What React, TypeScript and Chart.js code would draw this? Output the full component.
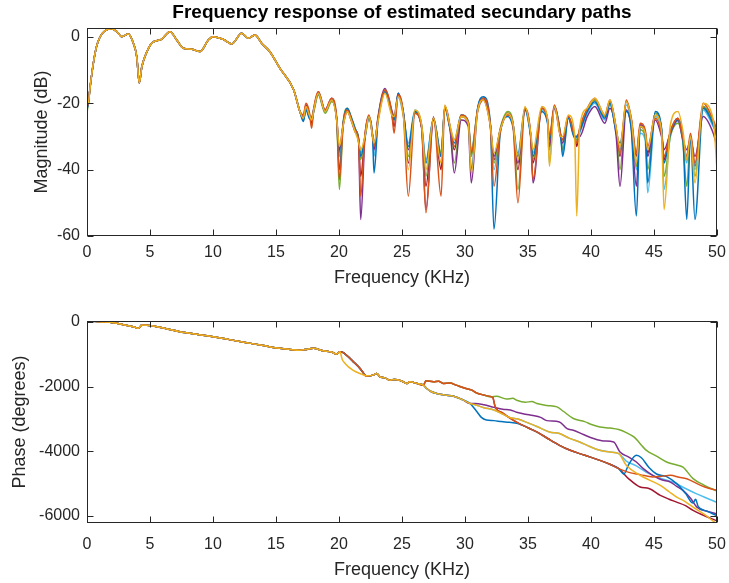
import React, { useEffect, useRef } from 'react';
import { Chart, registerables } from 'chart.js';
Chart.register(...registerables);

// ---------- axis ticks ----------
const X_TICKS = [0, 5, 10, 15, 20, 25, 30, 35, 40, 45, 50];
const MAG_Y_TICKS = [-60, -40, -20, 0];
const PH_Y_TICKS = [-6000, -4000, -2000, 0];

// ---------- series colours / names ----------
const SERIES = ['yellow', 'orange', 'blue', 'purple', 'green', 'lightblue', 'darkred'];
const COLORS: Record<string, string> = {
  blue: '#0072BD', orange: '#D95319', yellow: '#EDB120', purple: '#7E2F8E',
  green: '#77AC30', lightblue: '#4DBEEE', darkred: '#A2142F',
};

// ---------- magnitude (dB) ----------
const MAG_HEAD: [number, number][] = [
  [0, -21], [0.1, -20], [0.25, -15], [0.5, -8], [0.75, -3], [1.03, 0], [1.4, 1.8], [1.96, 2.5],
  [2.4, 1.5], [2.75, 0.1], [3.28, 0.9], [3.68, -1.9], [3.95, -6], [4.15, -13.9], [4.35, -9],
  [4.6, -5.9], [5.13, -1.9], [5.9, -0.7], [6.59, 1.6], [7.12, -0.9], [7.64, -3.4], [8.3, -3.7],
  [8.97, -4.4], [9.63, -0.9], [10.0, 0.1], [10.8, -0.7], [11.48, -2.1], [12.28, 1.1], [12.8, -0.4],
  [13.33, 0.6], [13.86, -1.9], [14.5, -4.4], [15.3, -9.4], [16.4, -15.9], [16.9, -22.5],
];
// null marks a notch whose depth is given per series
const MAG_TAIL: [number, number | null][] = [
  [17.17, -24.5], [17.38, -21], [17.64, -23.5], [17.83, null], [18.0, -22], [18.36, -17],
  [18.9, -22.5], [19.42, -19], [19.82, -25], [20.03, null], [20.34, -26], [20.66, -22], [21.0, -25],
  [21.27, -28], [21.55, -31], [21.72, null], [22.06, -30], [22.38, -24], [22.67, -30], [22.78, null],
  [23.1, -25], [23.65, -16.5], [24.18, -23], [24.37, null], [24.7, -17.5], [25.1, -23], [25.5, null],
  [26.03, -22.5], [26.56, -27], [26.9, null], [27.5, -24.5], [28.1, null], [28.4, -21], [28.8, -27],
  [29.15, null], [29.7, -24], [30.26, -26], [30.5, null], [31.0, -22], [31.45, -18.5], [32.0, -26],
  [32.3, null], [32.8, -28], [33.4, -23], [33.8, -26], [34.2, null], [34.76, -21.5], [35.2, -29],
  [35.4, null], [36.1, -21.5], [36.55, -25], [36.7, null], [37.1, -21], [37.6, -30], [37.75, null],
  [38.2, -24], [38.7, -30], [38.87, null], [39.1, -28], [39.7, -22], [40.3, -19], [41.1, -24],
  [41.5, -19.5], [42.0, -28], [42.3, null], [42.8, -19.5], [43.2, -25], [43.6, null], [43.9, -27],
  [44.3, -29], [44.5, null], [45.1, -23], [45.6, -28], [45.8, null], [46.3, -28], [46.9, -24],
  [47.3, -30], [47.6, null], [47.9, -30], [48.25, null], [48.9, -20], [49.7, -25], [50, -32],
];
const MAG_START: Record<string, number> = {
  blue: -22, orange: -21, yellow: -20, purple: -21.5, green: -23, lightblue: -20.5, darkred: -21,
};
const MAG_END: Record<string, number> = {
  blue: -30, orange: -28, yellow: -40, purple: -33, green: -31, lightblue: -29, darkred: -30,
};
const MAG_NOTCH: Record<string, number[]> = {
  blue:      [-25, -40, -36, -41, -25, -33, -38, -36, -32, -40, -58, -36, -36, -31, -36, -30, -32, -54, -44, -38, -55, -55],
  orange:    [-27.5, -43, -48, -33, -29, -48, -53, -48, -33, -35, -45, -50, -43, -30, -31, -32, -35, -35, -33, -36, -36, -38],
  yellow:    [-25, -33, -34, -32, -24, -40, -40, -38, -31, -41, -35, -37, -34, -39, -30, -54, -33, -38, -34, -52, -37, -44],
  purple:    [-24.5, -34, -55, -34, -24, -34, -52, -36, -41, -44, -36, -38, -44, -33, -32, -30, -45, -45, -36, -34, -34, -36],
  green:     [-25, -46, -37, -33, -25, -36, -42, -35, -38, -36, -38, -46, -37, -34, -34, -31, -40, -39, -40, -42, -45, -42],
  lightblue: [-24, -36, -35, -36, -25, -32, -37, -35, -31, -34, -40, -35, -35, -38, -35, -31, -34, -40, -47, -46, -38, -40],
  darkred:   [-26, -35, -42, -33, -27, -38, -45, -40, -34, -35, -37, -40, -38, -31, -31, -33, -36, -36, -35, -37, -37, -39],
};
const MAG_SHIFT: Record<string, number[]> = {
  blue:      [-1, 0, 0.5, -0.5, 0, 0.5, 0, 0, -0.5, 0.5, 0.5, -1, -0.5, -1, 0, -0.5, -0.5, -3, 0, 0.5, -1, 0, -1.5],
  orange:    [1, 0.5, 0, 0.5, 0.5, 0, -0.5, 0.5, 0, 0.5, 0, -0.5, 0, 0, 0.5, 0, 0.5, 0.5, 1, -1.5, -0.5, 1, 0],
  yellow:    [0, 0, -0.5, 0, -0.5, -0.5, 0.5, 0, 0.5, 0, -0.5, 0, 0.5, 0.5, 0, 0.5, 0.5, 0, 0, -0.5, 1.5, 0, 0],
  purple:    [0, 0.5, 0, 0, 1, 0.5, -0.5, -0.5, 0, -1, 0, 0, -0.5, 0, -0.5, 0, -2, -2.5, 0.5, -2, -1, -1, -4],
  green:     [-0.5, -0.5, 0.5, 0, 0.5, 0, 0, 0, -0.5, 0, 0, 0.5, 0, 0, 0, 0, 0, 0, -1, 0, -2, 0, -1],
  lightblue: [-0.5, 0, 0, 0, 0, -0.5, 0.5, 0, 0, 0.5, 0, 0, 0, -0.5, 0, 0, -1, -1, -2, -1, -1.5, 0, -2],
  darkred:   [0.5, 0, -0.5, 0, 0, 0, 0, 0, 0, 0, -0.5, 0, 0, 0, 0, 0, 0, 0, 0, 0, -0.5, 0, -1],
};

// ---------- phase (degrees) ----------
const PH_HEAD: [number, number][] = [
  [0, -10], [0.5, 25], [1.0, 10], [2.1, -20], [3.0, -90], [3.67, -145], [4.07, -195], [4.2, -150],
  [4.34, -93], [5.26, -124], [6.3, -210], [7.37, -300], [8.7, -380], [10.0, -455], [11.3, -545],
  [12.68, -640], [14.0, -730], [15.3, -815], [16.1, -847], [16.9, -870], [17.5, -840], [17.96, -815],
  [18.75, -890], [19.4, -930], [19.8, -992], [20.08, -920],
];
const PH_MID_MAIN: [number, number][] = [[20.3, -940], [20.74, -1075], [21.2, -1250], [21.67, -1435], [22.2, -1674]];
const PH_MID_YEL: [number, number][] = [[20.25, -1150], [20.48, -1280], [21.1, -1488], [21.8, -1612], [22.2, -1665]];
const PH_MID_COMMON: [number, number][] = [
  [22.7, -1643], [23.0, -1590], [23.25, -1695], [23.6, -1720], [24.05, -1798], [24.4, -1780],
  [24.8, -1800], [25.1, -1850], [25.4, -1900], [25.6, -1850], [26.2, -1900], [26.7, -1953],
];
const PH_UPPER: [number, number][] = [
  [26.9, -1820], [27.5, -1850], [27.9, -1830], [28.3, -1900], [28.8, -1890], [29.3, -1953],
  [30.0, -2050], [30.5, -2100], [30.9, -2190], [31.5, -2260], [32.1, -2315],
];
const PH_LOWER: [number, number][] = [
  [26.96, -2055], [27.3, -2150], [27.75, -2210], [28.4, -2260], [29.1, -2294], [29.8, -2400], [30.4, -2520],
];
const PH_MIDDLE: [number, number][] = [
  [30.8, -2560], [31.5, -2650], [32.3, -2720], [33.0, -2850], [33.6, -2960], [34.2, -3000],
  [35.0, -3120], [35.7, -3230], [36.7, -3400], [37.5, -3450], [38.3, -3600], [39.1, -3710],
  [39.9, -3850], [40.7, -3968], [41.5, -4020], [42.2, -4070],
];
const PH_LOWEST: [number, number][] = [
  [35.0, -3270], [35.8, -3420], [36.6, -3610], [37.5, -3813], [38.3, -3960], [39.1, -4070],
  [39.9, -4170], [40.7, -4278], [41.5, -4400], [42.2, -4535],
];
const PH_DROP: [number, number][] = [[32.2, -2330], [32.4, -2625], [33.0, -2820], [33.6, -2980], [34.2, -3120]];
const PH_BLUE_LOOP: [number, number][] = [
  [30.9, -2750], [31.3, -2950], [31.7, -3030], [32.3, -3050], [32.9, -3080], [33.5, -3100], [34.2, -3140],
];
const PH_YEL_TAIL: [number, number][] = [
  [42.8, -4433], [43.9, -4743], [44.6, -4880], [45.5, -5053], [46.2, -5250], [46.8, -5415],
  [47.5, -5560], [48.1, -5725], [49.0, -5950], [49.8, -6190], [50, -6240],
];
const PH_LB_TAIL: [number, number][] = [
  [42.8, -4300], [43.6, -4450], [44.4, -4650], [45.5, -4830], [46.5, -4950], [47.5, -5150],
  [48.3, -5300], [49.2, -5450], [50, -5580],
];
const PH_BLUE_TAIL: [number, number][] = [
  [42.6, -4700], [43.0, -4400], [43.6, -4123], [44.0, -4200], [44.6, -4500], [45.2, -4700],
  [46.0, -4780], [46.8, -5000], [47.5, -5300], [48.1, -5600], [48.3, -5480], [48.5, -5700],
  [49.2, -5850], [50, -5990],
];
const PH_ORANGE_TAIL: [number, number][] = [
  [43.0, -4650], [43.9, -4720], [44.9, -4795], [45.6, -4770], [46.3, -4743], [47.0, -4800],
  [47.6, -4845], [48.7, -5053], [49.4, -5150], [50, -5208],
];
const PH_DR_TAIL: [number, number][] = [
  [43.0, -4850], [43.9, -5105], [44.6, -5150], [45.5, -5363], [46.2, -5480], [46.8, -5570],
  [47.5, -5680], [48.1, -5828], [49.0, -5990], [50, -6150],
];
const PH_PURPLE_TAIL: [number, number][] = [
  [30.8, -2520], [31.5, -2560], [32.3, -2640], [33.0, -2700], [33.6, -2720], [34.1, -2790],
  [34.8, -2850], [35.4, -2890], [36.0, -2950], [36.5, -3050], [37.5, -3090], [38.1, -3300],
  [38.6, -3348], [39.4, -3480], [40.2, -3605], [41.0, -3680], [41.8, -3710], [42.3, -4020],
  [43.0, -4180], [43.6, -4330], [44.2, -4550], [44.9, -4743], [45.6, -4880], [46.3, -4950],
  [46.8, -5080], [47.3, -5208], [47.9, -5450], [48.4, -5725], [49.2, -5850], [50, -5930],
];
const PH_GREEN_TAIL: [number, number][] = [
  [32.5, -2294], [33.3, -2380], [33.8, -2360], [34.1, -2418], [34.8, -2480], [35.3, -2460],
  [35.7, -2520], [36.5, -2580], [37.3, -2625], [37.8, -2760], [38.6, -2985], [39.5, -3080],
  [40.1, -3180], [40.7, -3245], [41.5, -3280], [42.2, -3327], [42.8, -3420], [43.4, -3555],
  [44.4, -3968], [45.2, -4150], [46.0, -4330], [46.8, -4420], [47.3, -4485], [48.1, -4845],
  [49.0, -5050], [50, -5230],
];

const PH_PARTS: Record<string, [number, number][][]> = {
  yellow: [PH_HEAD, PH_MID_YEL, PH_MID_COMMON, PH_LOWER, PH_MIDDLE, PH_YEL_TAIL],
  lightblue: [PH_HEAD, PH_MID_MAIN, PH_MID_COMMON, PH_LOWER, PH_MIDDLE, PH_LB_TAIL],
  blue: [PH_HEAD, PH_MID_MAIN, PH_MID_COMMON, PH_LOWER, PH_BLUE_LOOP, PH_LOWEST, PH_BLUE_TAIL],
  purple: [PH_HEAD, PH_MID_MAIN, PH_MID_COMMON, PH_LOWER, PH_PURPLE_TAIL],
  orange: [PH_HEAD, PH_MID_MAIN, PH_MID_COMMON, PH_UPPER, PH_DROP, PH_LOWEST, PH_ORANGE_TAIL],
  darkred: [PH_HEAD, PH_MID_MAIN, PH_MID_COMMON, PH_UPPER, PH_DROP, PH_LOWEST, PH_DR_TAIL],
  green: [PH_HEAD, PH_MID_MAIN, PH_MID_COMMON, PH_UPPER, PH_GREEN_TAIL],
};

// ---------- builders ----------
function buildMag(name: string) {
  const pts: { x: number; y: number }[] = [];
  MAG_HEAD.forEach(([f, v], i) => pts.push({ x: f, y: i === 0 ? MAG_START[name] : v }));
  let k = 0;
  MAG_TAIL.forEach(([f, v], i) => {
    if (v === null) {
      pts.push({ x: f, y: MAG_NOTCH[name][k] });
      k++;
    } else {
      pts.push({ x: f, y: i === MAG_TAIL.length - 1 ? MAG_END[name] : v + MAG_SHIFT[name][k] });
    }
  });
  return pts;
}
function buildPhase(name: string) {
  const pts: { x: number; y: number }[] = [];
  PH_PARTS[name].forEach((part) => part.forEach(([f, v]) => pts.push({ x: f, y: v })));
  return pts;
}

const FONT = "'Liberation Sans', Arial, Helvetica, sans-serif";
const INK = '#262626';

const boxPlugin = {
  id: 'matlabBox',
  afterDatasetsDraw(chart: any, _args: any, opts: any) {
    const { ctx, chartArea: a, scales } = chart;
    ctx.save();
    ctx.strokeStyle = INK;
    ctx.lineWidth = 1;
    const L = Math.round(a.left) + 0.5, R = Math.round(a.right) - 0.5;
    const T = Math.round(a.top) + 0.5, B = Math.round(a.bottom) - 0.5;
    ctx.strokeRect(L, T, R - L, B - T);
    const tl = 6;
    ctx.beginPath();
    (opts.xTicks as number[]).forEach((v) => {
      const px = Math.round(scales.x.getPixelForValue(v)) + 0.5;
      ctx.moveTo(px, B); ctx.lineTo(px, B - tl);
      ctx.moveTo(px, T); ctx.lineTo(px, T + tl);
    });
    (opts.yTicks as number[]).forEach((v) => {
      const py = Math.round(scales.y.getPixelForValue(v)) + 0.5;
      ctx.moveTo(L, py); ctx.lineTo(L + tl, py);
      ctx.moveTo(R, py); ctx.lineTo(R - tl, py);
    });
    ctx.stroke();
    if (opts.title) {
      ctx.fillStyle = '#000';
      ctx.font = `bold 19px ${FONT}`;
      ctx.textAlign = 'center';
      ctx.textBaseline = 'middle';
      ctx.fillText(opts.title, (a.left + a.right) / 2, 13);
    }
    ctx.restore();
  },
};

function makeConfig(kind: 'mag' | 'phase'): any {
  const isMag = kind === 'mag';
  const datasets = SERIES.map((name) => ({
    label: name,
    data: isMag ? buildMag(name) : buildPhase(name),
    borderColor: COLORS[name],
    backgroundColor: COLORS[name],
    borderWidth: 1.5,
    pointRadius: 0,
    fill: false,
    cubicInterpolationMode: 'monotone',
  }));
  const yTicks = isMag ? MAG_Y_TICKS : PH_Y_TICKS;
  return {
    type: 'line',
    data: { datasets },
    plugins: [boxPlugin],
    options: {
      animation: false,
      responsive: false,
      parsing: false,
      layout: { padding: { left: 0, right: 12, top: isMag ? 28 : 30, bottom: 0 } },
      plugins: {
        legend: { display: false },
        tooltip: { enabled: false },
        matlabBox: { xTicks: X_TICKS, yTicks, title: isMag ? 'Frequency response of estimated secundary paths' : '' },
      },
      scales: {
        x: {
          type: 'linear', min: 0, max: 50,
          afterBuildTicks: (s: any) => { s.ticks = X_TICKS.map((v) => ({ value: v })); },
          afterFit: (s: any) => { s.height = isMag ? 55 : 60; s.paddingLeft = 0; s.paddingRight = 0; },
          grid: { display: false, drawTicks: false },
          border: { display: false },
          ticks: {
            color: INK, font: { size: 16, family: FONT }, padding: isMag ? 7 : 12, maxRotation: 0, autoSkip: false,
            callback: (v: any) => String(v),
          },
          title: { display: true, text: 'Frequency (KHz)', color: INK, font: { size: 18, family: FONT }, padding: { top: 0, bottom: 2 } },
        },
        y: {
          type: 'linear', min: isMag ? -60 : -6216, max: isMag ? 2.7 : 31,
          afterBuildTicks: (s: any) => { s.ticks = yTicks.map((v) => ({ value: v })); },
          afterFit: (s: any) => { s.width = 87; s.paddingTop = 0; s.paddingBottom = 0; },
          grid: { display: false, drawTicks: false },
          border: { display: false },
          ticks: {
            color: INK, font: { size: 16, family: FONT }, padding: 7, autoSkip: false,
            callback: (v: any) => String(v),
          },
          title: {
            display: true, text: isMag ? 'Magnitude (dB)' : 'Phase (degrees)', color: INK,
            font: { size: 18, family: FONT }, padding: { top: isMag ? 31 : 9, bottom: 0 },
          },
        },
      },
    },
  };
}

export default function App() {
  const r1 = useRef<HTMLCanvasElement>(null);
  const r2 = useRef<HTMLCanvasElement>(null);
  useEffect(() => {
    const c1 = new Chart(r1.current as HTMLCanvasElement, makeConfig('mag'));
    const c2 = new Chart(r2.current as HTMLCanvasElement, makeConfig('phase'));
    return () => { c1.destroy(); c2.destroy(); };
  }, []);
  return (
    <div style={{ position: 'absolute', left: 0, top: 0, width: 729, height: 583, background: '#fff' }}>
      <canvas ref={r1} width={729} height={291}
        style={{ position: 'absolute', left: 0, top: 0, width: 729, height: 291 }} />
      <canvas ref={r2} width={729} height={292}
        style={{ position: 'absolute', left: 0, top: 291, width: 729, height: 292 }} />
    </div>
  );
}
